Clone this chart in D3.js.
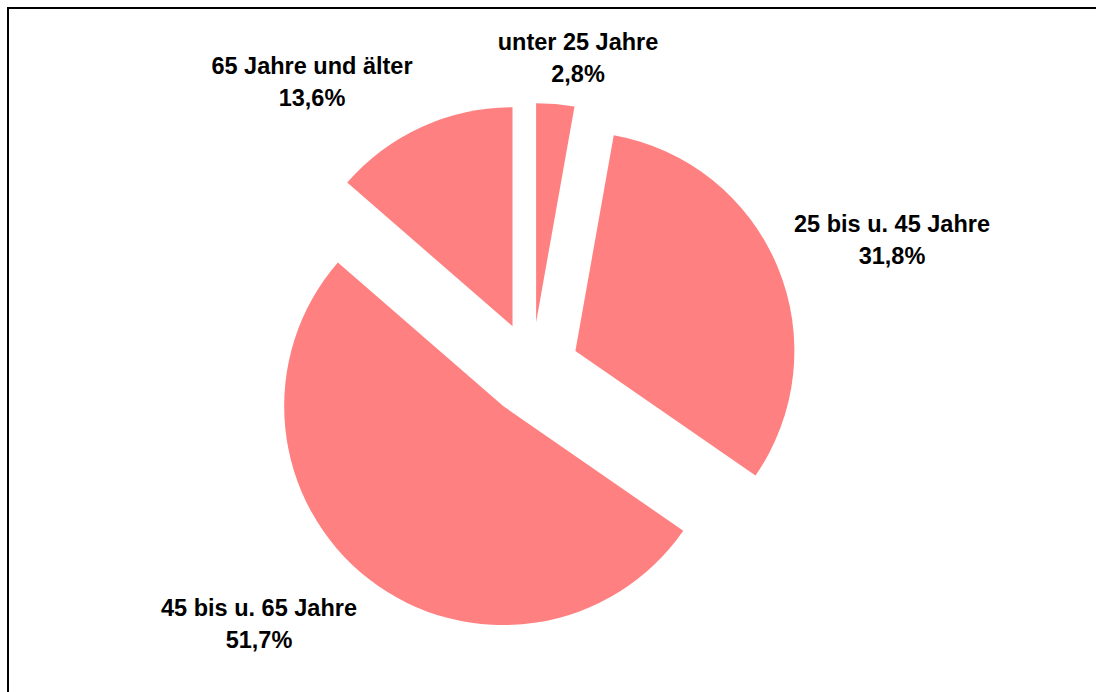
<!DOCTYPE html>
<html>
<head>
<meta charset="utf-8">
<script src="https://cdn.jsdelivr.net/npm/d3@7"></script>
<style>
  body { margin: 0; background: #fff; }
  text { font-family: "Liberation Sans", Arial, sans-serif; font-weight: bold; fill: #000; }
</style>
</head>
<body>
<div id="chart"></div>
<script>
// Data
var categories = ['unter 25 Jahre', '25 bis u. 45 Jahre', '45 bis u. 65 Jahre', '65 Jahre und älter']
var values = [2.8, 31.8, 51.7, 13.6]
var valueLabels = ['2,8%', '31,8%', '51,7%', '13,6%']

// Size
var width = 1096
var height = 692
var cx = 532
var cy = 369
var radius = 219
var explode = 47

var svg = d3.select('#chart')
  .append('svg')
  .attr('width', width)
  .attr('height', height)

// frame (runs off the right and bottom edge)
svg.append('rect')
  .attr('x', 8)
  .attr('y', 8)
  .attr('width', 1200)
  .attr('height', 800)
  .attr('fill', 'none')
  .attr('stroke', '#000')
  .attr('stroke-width', 2)

var pie = d3.pie().sort(null).value(d => d)
var arc = d3.arc().innerRadius(0).outerRadius(radius)
var arcs = pie(values)

var g = svg.append('g').attr('transform', `translate(${cx},${cy})`)

g.selectAll('path')
  .data(arcs)
  .enter()
  .append('path')
  .attr('d', arc)
  .attr('fill', '#ff8080')
  .attr('transform', d => {
    var mid = (d.startAngle + d.endAngle) / 2
    return `translate(${Math.sin(mid) * explode},${-Math.cos(mid) * explode})`
  })

// labels: placed along each slice bisector
var labelPos = [
  { x: 578, y: 42 },
  { x: 892, y: 224 },
  { x: 259, y: 608 },
  { x: 312, y: 66 }
]

var labels = svg.selectAll('g.lbl')
  .data(arcs)
  .enter()
  .append('g')
  .attr('class', 'lbl')
  .attr('transform', (d, i) => `translate(${labelPos[i].x},${labelPos[i].y})`)

labels.append('text')
  .attr('text-anchor', 'middle')
  .attr('dy', '0.35em')
  .style('font-size', '23.5px')
  .text((d, i) => categories[i])

labels.append('text')
  .attr('text-anchor', 'middle')
  .attr('y', 32)
  .attr('dy', '0.35em')
  .style('font-size', '23.5px')
  .text((d, i) => valueLabels[i])
</script>
</body>
</html>
